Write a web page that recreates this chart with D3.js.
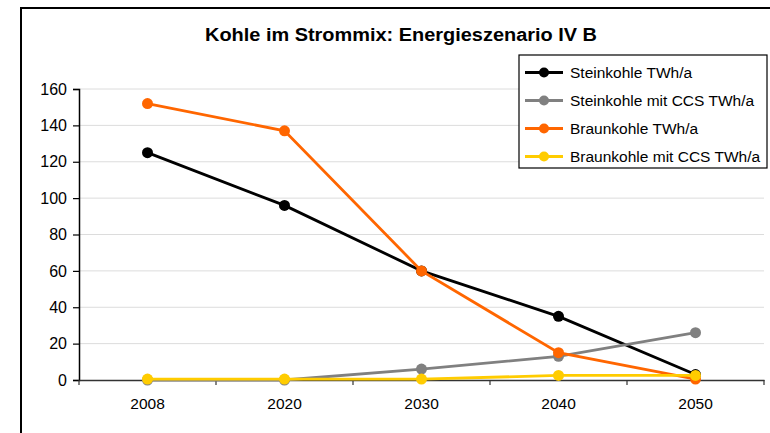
<!DOCTYPE html>
<html lang="de">
<head>
<meta charset="utf-8">
<title>Kohle im Strommix</title>
<script src="https://d3js.org/d3.v7.min.js"></script>
<style>
  body { margin: 0; background: #fff; }
  svg { display: block; font-family: "Liberation Sans", Arial, sans-serif; }
</style>
</head>
<body>
<script>
// data
const years = ["2008", "2020", "2030", "2040", "2050"];
const seriesNames = ["Steinkohle TWh/a", "Steinkohle mit CCS TWh/a", "Braunkohle TWh/a", "Braunkohle mit CCS TWh/a"];
const steinkohle = [125, 96, 60, 35, 3];
const steinkohleCCS = [0, 0, 6, 13, 26];
const braunkohle = [152, 137, 60, 15, 0.5];
const braunkohleCCS = [0.5, 0.5, 0.5, 2.5, 2.5];
const yTicks = [0, 20, 40, 60, 80, 100, 120, 140, 160];
const colors = ["#000000", "#808080", "#ff6600", "#ffcc00"];

const W = 770, H = 433;
const plot = {left: 79, right: 764, top: 89, bottom: 380};

const svg = d3.select("body").append("svg")
    .attr("width", W)
    .attr("height", H);

// outer chart frame (cut off at right and bottom)
svg.append("rect")
    .attr("x", 21).attr("y", 8)
    .attr("width", 800).attr("height", 500)
    .attr("fill", "none")
    .attr("stroke", "#000")
    .attr("stroke-width", 2);

svg.append("text")
    .attr("x", 401)
    .attr("y", 40.5)
    .attr("text-anchor", "middle")
    .style("font-weight", "bold")
    .style("font-size", "17.5px")
    .attr("textLength", 392)
    .attr("lengthAdjust", "spacingAndGlyphs")
    .text("Kohle im Strommix: Energieszenario IV B");

const x = d3.scaleBand().domain(years).range([plot.left, plot.right]);
const y = d3.scaleLinear().domain([0, 160]).range([plot.bottom, plot.top]);

// gridlines
svg.append("g")
    .selectAll("line")
    .data(yTicks.slice(1))
    .join("line")
    .attr("x1", plot.left).attr("x2", plot.right)
    .attr("y1", d => y(d)).attr("y2", d => y(d))
    .attr("stroke", "#dcdcdc")
    .attr("stroke-width", 1);

// y axis
const yAxis = svg.append("g")
    .attr("transform", "translate(" + plot.left + ",0)")
    .call(d3.axisLeft(y).tickValues(yTicks).tickSize(6).tickPadding(6));
yAxis.selectAll("text").style("font-size", "16px").attr("fill", "#000");
yAxis.select(".domain").attr("stroke", "#000").attr("stroke-width", 1.5);
yAxis.selectAll(".tick line").attr("stroke", "#000").attr("stroke-width", 1.2);

// x axis: labels in band centres, ticks on band edges
const xAxis = svg.append("g")
    .attr("transform", "translate(0," + plot.bottom + ")")
    .call(d3.axisBottom(x).tickSize(0).tickPadding(18));
xAxis.selectAll("text").style("font-size", "15.5px").attr("fill", "#000");
xAxis.select(".domain").attr("stroke", "#333").attr("stroke-width", 1.5);
xAxis.append("g")
    .selectAll("line")
    .data(years.map(d => x(d)).concat([plot.right]))
    .join("line")
    .attr("x1", d => d).attr("x2", d => d)
    .attr("y1", 0).attr("y2", 5)
    .attr("stroke", "#333")
    .attr("stroke-width", 1.2);

// series
const series = [steinkohle, steinkohleCCS, braunkohle, braunkohleCCS];
const cx = d => x(d) + x.bandwidth() / 2;
const line = d3.line()
    .x((d, i) => cx(years[i]))
    .y(d => y(d));

series.forEach((vals, s) => {
    const g = svg.append("g");
    g.append("path")
        .datum(vals)
        .attr("d", line)
        .attr("fill", "none")
        .attr("stroke", colors[s])
        .attr("stroke-width", 2.8);
    g.selectAll("circle")
        .data(vals)
        .join("circle")
        .attr("cx", (d, i) => cx(years[i]))
        .attr("cy", d => y(d))
        .attr("r", 5.5)
        .attr("fill", colors[s]);
});

// legend
const legend = svg.append("g");
legend.append("rect")
    .attr("x", 519).attr("y", 55)
    .attr("width", 248).attr("height", 113)
    .attr("fill", "#fff")
    .attr("stroke", "#000")
    .attr("stroke-width", 1.2);

seriesNames.forEach((name, i) => {
    const ly = 72.5 + i * 28;
    legend.append("line")
        .attr("x1", 525).attr("x2", 563)
        .attr("y1", ly).attr("y2", ly)
        .attr("stroke", colors[i])
        .attr("stroke-width", 2.8);
    legend.append("circle")
        .attr("cx", 544).attr("cy", ly)
        .attr("r", 5)
        .attr("fill", colors[i]);
    legend.append("text")
        .attr("x", 570)
        .attr("y", ly + 5.5)
        .style("font-size", "15.5px")
        .text(name);
});
</script>
</body>
</html>
